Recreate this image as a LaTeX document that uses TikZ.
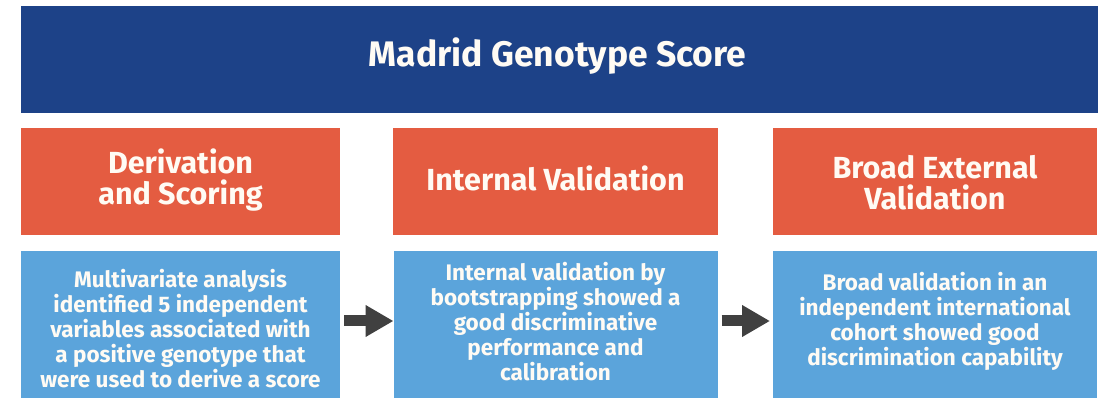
\documentclass[tikz,border=0pt]{standalone}
\usepackage{fontspec}
\setmainfont{Fira Sans}
\usetikzlibrary{arrows.meta}
\definecolor{navy}{HTML}{1D4288}
\definecolor{coral}{HTML}{E45C41}
\definecolor{sky}{HTML}{5BA4DB}
\definecolor{arrowgrey}{HTML}{404040}
\definecolor{paper}{HTML}{FFFBF4}
\tikzset{
  panel/.style={draw=none, inner sep=0pt, outer sep=0pt, anchor=center},
  titlebar/.style={panel, fill=navy, minimum width=1077pt, minimum height=107pt},
  stagebox/.style={panel, fill=coral, minimum height=107pt},
  notebox/.style={panel, fill=sky, minimum height=147pt},
  titletext/.style={text=paper, font=\bfseries\fontsize{35.5}{38}\selectfont},
  stagetext/.style={text=paper, align=center, font=\bfseries\fontsize{30.5}{31}\selectfont},
  notetext/.style={text=paper, align=center, font=\bfseries\fontsize{22.5}{25}\selectfont},
  flow/.style={draw=arrowgrey, line width=11pt,
    -{Triangle[length=28pt, width=30pt, fill=arrowgrey]}},
}
\begin{document}
\begin{tikzpicture}[x=1pt, y=-1pt]
  \useasboundingbox (0,0) rectangle (1112,398);
  \clip (0,0) rectangle (1112,398);
  \fill[white] (0,0) rectangle (1112,398);

  % header bar
  \node[titlebar] (bar) at (559.5,59.5) {};
  \node[titletext] (title) at (557.5,56) {Madrid Genotype Score};

  % stage headings
  \node[stagebox, minimum width=319pt] (s1) at (180.5,181.5) {};
  \node[stagebox, minimum width=325pt] (s2) at (555.5,181.5) {};
  \node[stagebox, minimum width=324pt] (s3) at (935,181.5) {};
  \node[stagetext] (s1t) at (s1.center |- 0,180.5) {Derivation\\and Scoring};
  \node[stagetext] (s2t) at (s2.center |- 0,178.5) {Internal Validation};
  \node[stagetext] (s3t) at (s3.center |- 0,183) {Broad External\\Validation};

  % stage descriptions
  \node[notebox, minimum width=319pt] (n1) at (180.5,324.5) {};
  \node[notebox, minimum width=324pt] (n2) at (555.5,324.5) {};
  \node[notebox, minimum width=324pt] (n3) at (935,324.5) {};
  \node[notetext] (n1t) at (n1.center |- 0,328.5) {Multivariate analysis\\identified 5 independent\\variables associated with\\a positive genotype that\\were used to derive a score};
  \node[notetext] (n2t) at (n2.center |- 0,321.5) {Internal validation by\\bootstrapping showed a\\good discriminative\\performance and\\calibration};
  \node[notetext] (n3t) at (n3.center |- 0,321.5) {Broad validation in an\\independent international\\cohort showed good\\discrimination capability};

  % flow between stages
  \draw[flow] ([xshift=4pt, yshift=3.5pt]n1.east) -- ([yshift=3.5pt]n2.west);
  \draw[flow] ([xshift=4pt, yshift=3.5pt]n2.east) -- ([xshift=-3pt, yshift=3.5pt]n3.west);
\end{tikzpicture}
\end{document}
